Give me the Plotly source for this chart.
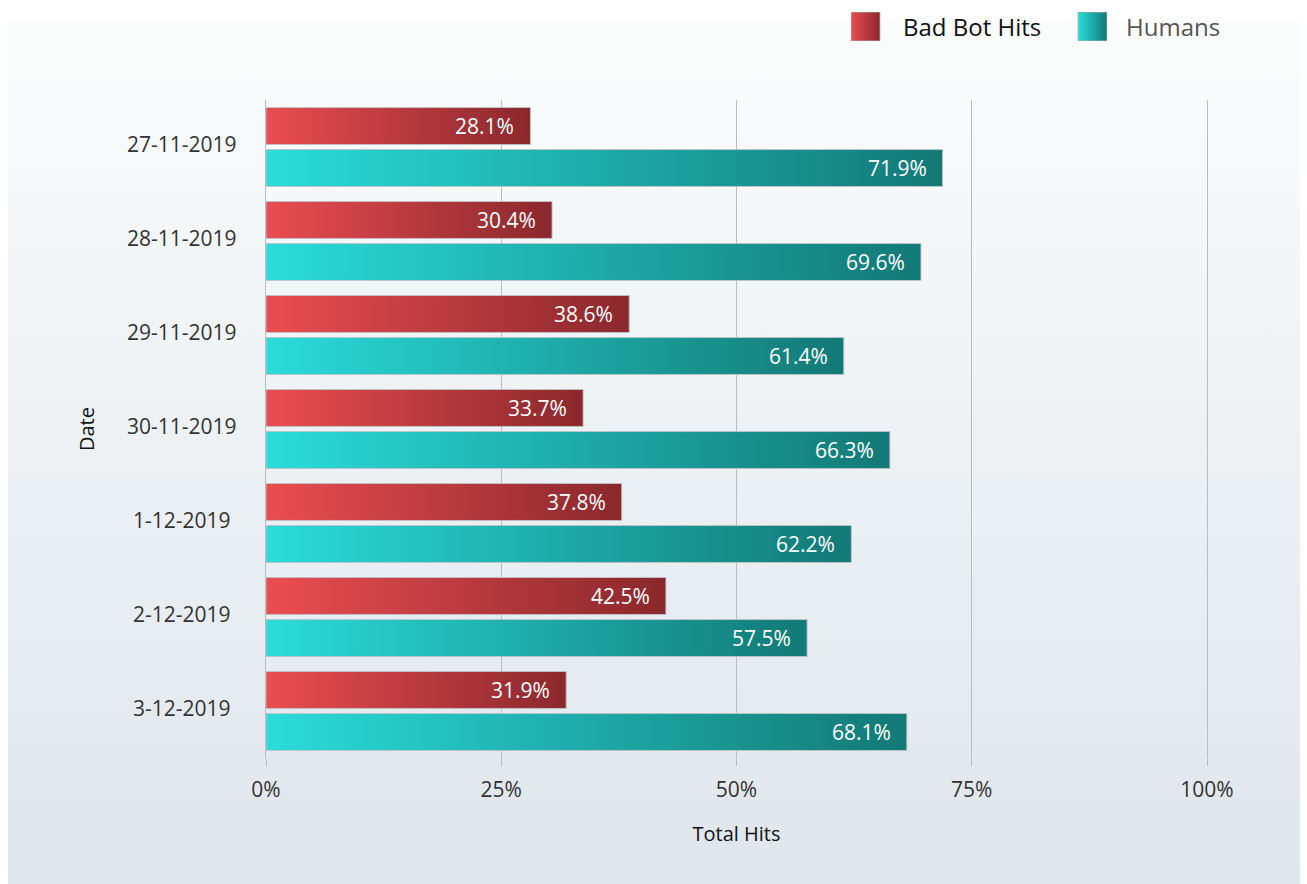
import base64
import plotly.graph_objects as go

# ---- data ----
dates = ["27-11-2019", "28-11-2019", "29-11-2019", "30-11-2019",
         "1-12-2019", "2-12-2019", "3-12-2019"]
bad_bot_pct = [28.1, 30.4, 38.6, 33.7, 37.8, 42.5, 31.9]
human_pct = [71.9, 69.6, 61.4, 66.3, 62.2, 57.5, 68.1]
x_ticks = [0, 0.25, 0.5, 0.75, 1.0]
x_tick_labels = ["0%", "25%", "50%", "75%", "100%"]
series_names = ["Bad Bot Hits", "Humans"]

# ---- styling ----
W, H = 1307, 884
FONT = "Open Sans"
RED = ("#ea4d51", "#8a282c")
TEAL = ("#2adcd9", "#127976")
GRID = "#bcbcbc"
BAR_H = 0.393      # bar thickness in category units
BAR_GAP = 0.027    # half gap between the two bars of a date
PLOT_L, PLOT_R, PLOT_T, PLOT_B = 266, 1207, 100, 758

fig = go.Figure()


def add_bar(value, y0, y1, colors, name):
    v = value / 100.0
    fig.add_trace(go.Scatter(
        x=[0, v, v, 0, 0], y=[y0, y0, y1, y1, y0],
        mode="lines", fill="toself",
        line=dict(color="rgba(190,195,200,0.9)", width=1),
        fillgradient=dict(type="horizontal", start=0, stop=v,
                          colorscale=[[0, colors[0]], [1, colors[1]]]),
        name=name, showlegend=False, hoverinfo="skip",
        xaxis="x", yaxis="y"))
    fig.add_annotation(x=v, y=(y0 + y1) / 2, xref="x", yref="y",
                       text=f"{value}%", showarrow=False,
                       xanchor="right", yanchor="middle", xshift=-14,
                       font=dict(family=FONT, size=21, color="white"))


for i, d in enumerate(dates):
    add_bar(bad_bot_pct[i], i - BAR_GAP - BAR_H, i - BAR_GAP, RED, series_names[0])
    add_bar(human_pct[i], i + BAR_GAP, i + BAR_GAP + BAR_H, TEAL, series_names[1])
    # centred category labels to the left of the plot
    fig.add_annotation(x=182 / W, y=i, xref="paper", yref="y",
                       text=d, showarrow=False,
                       xanchor="center", yanchor="middle", yshift=3,
                       font=dict(family=FONT, size=21, color="#333333"))

# ---- custom legend with gradient swatches ----
for k, (nm, cols) in enumerate(zip(series_names, [RED, TEAL])):
    x0 = 0 if k == 0 else 227
    fig.add_trace(go.Scatter(
        x=[x0, x0 + 29, x0 + 29, x0, x0], y=[0, 0, 29, 29, 0],
        mode="lines", fill="toself",
        line=dict(color="rgba(180,180,180,0.8)", width=1),
        fillgradient=dict(type="horizontal", start=x0, stop=x0 + 29,
                          colorscale=[[0, cols[0]], [1, cols[1]]]),
        showlegend=False, hoverinfo="skip", xaxis="x2", yaxis="y2"))
fig.add_annotation(x=901 / W, y=1 - 26 / H, xref="paper", yref="paper",
                   text=series_names[0], showarrow=False,
                   xanchor="left", yanchor="middle",
                   font=dict(family=FONT, size=24, color="#111111"))
fig.add_annotation(x=1124 / W, y=1 - 26 / H, xref="paper", yref="paper",
                   text=series_names[1], showarrow=False,
                   xanchor="left", yanchor="middle",
                   font=dict(family=FONT, size=24, color="#555555"))

# ---- background panel gradient ----
svg = ('<svg xmlns="http://www.w3.org/2000/svg" width="100" height="100" '
       'preserveAspectRatio="none"><defs><linearGradient id="g" x1="0" y1="0" '
       'x2="0" y2="1"><stop offset="0" stop-color="#fbfcfc"/>'
       '<stop offset="1" stop-color="#dfe6ec"/></linearGradient></defs>'
       '<rect width="100" height="100" fill="url(#g)"/></svg>')
bg_src = "data:image/svg+xml;base64," + base64.b64encode(svg.encode()).decode()

fig.update_layout(
    width=W, height=H,
    margin=dict(l=0, r=0, t=0, b=0, autoexpand=False),
    paper_bgcolor="white", plot_bgcolor="rgba(0,0,0,0)",
    font=dict(family=FONT, color="#333333"),
    showlegend=False,
    images=[dict(source=bg_src, xref="paper", yref="paper",
                 x=8 / W, y=1 - 22 / H, sizex=1292 / W, sizey=862 / H,
                 xanchor="left", yanchor="top", sizing="stretch",
                 layer="below")],
    xaxis=dict(domain=[PLOT_L / W, PLOT_R / W], range=[0, 1],
               tickvals=x_ticks, ticktext=x_tick_labels,
               showgrid=True, gridcolor=GRID, gridwidth=1,
               zeroline=False, showline=False, automargin=False,
               ticks="outside", ticklen=7, tickcolor=GRID,
               ticklabelstandoff=6,
               tickfont=dict(family=FONT, size=21, color="#333333"),
               title=dict(text="Total Hits", standoff=24,
                          font=dict(family=FONT, size=20, color="#111111")),
               anchor="y", fixedrange=True),
    yaxis=dict(domain=[1 - PLOT_B / H, 1 - PLOT_T / H],
               range=[len(dates) - 0.5, -0.5],
               showgrid=False, zeroline=False,
               showline=True, mirror=True, linecolor=GRID, linewidth=1,
               showticklabels=False, ticks="", automargin=False,
               title=dict(text="Date", standoff=165,
                          font=dict(family=FONT, size=20, color="#111111")),
               anchor="x", fixedrange=True),
    xaxis2=dict(domain=[851 / W, 1107 / W], range=[0, 256], visible=False,
                anchor="y2", fixedrange=True, automargin=False),
    yaxis2=dict(domain=[1 - 41 / H, 1 - 12 / H], range=[0, 29], visible=False,
                anchor="x2", fixedrange=True, automargin=False),
)

fig.write_html("out.html", config={"displayModeBar": False})
